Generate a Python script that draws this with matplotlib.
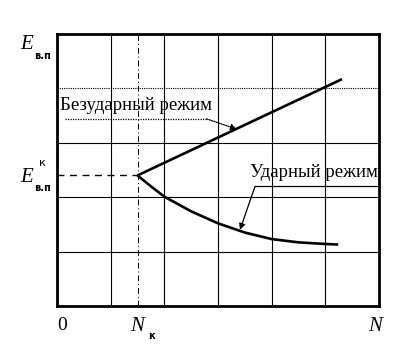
import matplotlib
matplotlib.use('Agg')
import matplotlib.pyplot as plt

# data (grid units: 6 columns x 5 rows)
n_k = 1.5
e_k = 2.4
grid_x = [1, 2, 3, 4, 5]
grid_y = [1, 2, 3, 4]
upper_x = [1.5, 5.31]
upper_y = [2.4, 4.17]
lower_x = [1.5, 1.75, 2.0, 2.5, 3.0, 3.5, 4.0, 4.5, 5.0, 5.24]
lower_y = [2.4, 2.2, 2.01, 1.74, 1.52, 1.35, 1.23, 1.17, 1.14, 1.13]

label_upper = 'Безударный режим'
label_lower = 'Ударный режим'

serif = 'Liberation Serif'

fig = plt.figure(figsize=(4.13, 3.5), dpi=100)
ax = fig.add_axes([57/413, 1-306/350, 322/413, 272/350])
ax.set_xlim(0, 6)
ax.set_ylim(0, 5)
ax.set_xticks([])
ax.set_yticks([])
for s in ax.spines.values():
    s.set_linewidth(2)

# grid
for gx in grid_x:
    ax.axvline(gx, color='black', lw=0.8)
for gy in grid_y:
    if gy == 4:
        ax.axhline(gy, color='black', lw=0.8, ls=(0, (1, 1)))
    else:
        ax.axhline(gy, color='black', lw=0.8)
ax.axvline(n_k, color='black', lw=0.7, ls=(0, (6, 3, 1, 3)))
ax.plot([0, n_k], [e_k, e_k], color='black', lw=1, ls=(0, (5, 4)))

# curves
ax.plot(upper_x, upper_y, color='black', lw=1.9, solid_capstyle='butt')
ax.plot(lower_x, lower_y, color='black', lw=1.9, solid_capstyle='butt',
        solid_joinstyle='round')

# annotations
ax.text(0.06, 3.69, label_upper, family=serif, fontsize=13.5, va='center', ha='left')
ax.plot([0.15, 2.79], [3.44, 3.44], color='black', lw=0.9, ls=(0, (1, 1)))
ax.annotate('', xy=(3.35, 3.25), xytext=(2.79, 3.44),
            arrowprops=dict(arrowstyle='-|>', color='black', lw=0.9, ls=(0, (1, 1)),
                            mutation_scale=9, shrinkA=0, shrinkB=0))
ax.text(5.98, 2.46, label_lower, family=serif, fontsize=13.5, va='center', ha='right')
ax.plot([3.69, 5.98], [2.2, 2.2], color='black', lw=0.9)
ax.annotate('', xy=(3.41, 1.40), xytext=(3.69, 2.2),
            arrowprops=dict(arrowstyle='-|>', color='black', lw=0.9,
                            mutation_scale=9, shrinkA=0, shrinkB=0))

# axis labels
kw = dict(clip_on=False, va='center')
ax.text(-0.68, 4.8, 'E', family=serif, style='italic', fontsize=15, ha='left', **kw)
ax.text(-0.43, 4.6, 'в.п', family='DejaVu Sans', fontweight='bold', fontsize=7, ha='left', **kw)
ax.text(-0.68, 2.37, 'E', family=serif, style='italic', fontsize=15, ha='left', **kw)
ax.text(-0.43, 2.17, 'в.п', family='DejaVu Sans', fontweight='bold', fontsize=7, ha='left', **kw)
ax.text(-0.33, 2.63, 'к', family='DejaVu Sans', fontsize=8, ha='left', **kw)

ax.text(0.1, -0.35, '0', family=serif, fontsize=14, ha='center', **kw)
ax.text(n_k, -0.38, 'N', family=serif, style='italic', fontsize=15, ha='center', **kw)
ax.text(n_k + 0.2, -0.55, 'к', family='DejaVu Sans', fontweight='bold', fontsize=7, ha='left', **kw)
ax.text(5.92, -0.38, 'N', family=serif, style='italic', fontsize=15, ha='center', **kw)

fig.savefig('out.png', dpi=100)
